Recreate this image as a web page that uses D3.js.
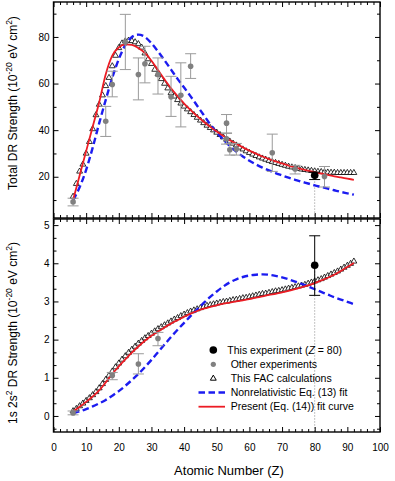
<!DOCTYPE html>
<html>
<head>
<meta charset="utf-8">
<script src="https://cdn.jsdelivr.net/npm/d3@7"></script>
<style>
body { margin: 0; background: #fff; }
svg { font-family: "Liberation Sans", Arial, sans-serif; }
</style>
</head>
<body>
<svg id="chart" width="395" height="481"></svg>
<script>
/** FAC calculations, one point per Z from 6 to 92 */
var facZ = d3.range(6, 93);
var facTotal = [
    11.5, 17, 22.3, 25.3, 30, 35, 40.5, 46.5, 51, 55,
    59, 62.5, 67.5, 72, 75.3, 77.3, 78.2, 78.5, 78.3, 77.8,
    77, 75.5, 73, 70.5, 68.5, 66, 64, 62, 60, 58,
    56, 54.5, 53, 51.5, 50.2, 49, 47.8, 46.6, 45.4, 44.2,
    43.1, 42, 41, 40, 39, 38, 37, 36, 35.2, 34.3,
    33.5, 32.6, 31.8, 31, 30.3, 29.6, 29, 28.4, 27.9, 27.4,
    26.9, 26.4, 26, 25.6, 25.2, 24.8, 24.4, 24.1, 23.8, 23.5,
    23.2, 23, 22.8, 22.6, 22.4, 22.2, 22.1, 22, 21.9, 21.8,
    21.8, 21.7, 21.7, 21.7, 21.7, 21.7, 21.7];
var facGround = [
    0.13, 0.19, 0.26, 0.33, 0.4, 0.47, 0.55, 0.63, 0.73, 0.84,
    0.95, 1.06, 1.17, 1.28, 1.38, 1.48, 1.57, 1.66, 1.74, 1.82,
    1.9, 1.97, 2.04, 2.1, 2.16, 2.22, 2.28, 2.33, 2.38, 2.43,
    2.48, 2.53, 2.57, 2.62, 2.66, 2.7, 2.74, 2.77, 2.8, 2.83,
    2.86, 2.89, 2.91, 2.93, 2.95, 2.97, 2.99, 3.0, 3.02, 3.04,
    3.05, 3.07, 3.09, 3.1, 3.12, 3.14, 3.16, 3.18, 3.2, 3.21,
    3.23, 3.25, 3.27, 3.28, 3.3, 3.32, 3.34, 3.36, 3.38, 3.4,
    3.42, 3.44, 3.47, 3.5, 3.53, 3.56, 3.59, 3.63, 3.67, 3.71,
    3.75, 3.79, 3.84, 3.89, 3.94, 3.99, 4.05];

/** Fit curves, sampled every 2 in Z */
var fitZ = d3.range(6, 93, 2);
var presentTotal = [
    10, 20.5, 31, 41.5, 52, 64, 72, 75.5, 76.8, 76.6,
    75.2, 73.2, 69.8, 65.8, 61.8, 58, 54.6, 51.4, 48.6, 46,
    43.6, 41.4, 39.4, 37.5, 35.7, 34.1, 32.6, 31.2, 29.9, 28.7,
    27.6, 26.6, 25.7, 24.8, 24, 23.3, 22.6, 22, 21.4, 20.8,
    20.2, 19.7, 19.2, 18.7];
var nonrelTotal = [
    10, 15.5, 23, 32.5, 43, 53, 62.5, 70.5, 76.5, 80,
    81, 80, 77.3, 73.8, 70, 66, 62, 58.3, 54.5, 50.5,
    46.5, 42.5, 39, 36, 33.2, 30.8, 28.7, 26.9, 25.3, 23.9,
    22.7, 21.6, 20.6, 19.6, 18.7, 17.9, 17.1, 16.3, 15.6, 14.9,
    14.2, 13.5, 12.9, 12.3];
var presentGround = [
    0.12, 0.24, 0.37, 0.51, 0.67, 0.88, 1.1, 1.3, 1.48, 1.66,
    1.82, 1.97, 2.1, 2.21, 2.32, 2.42, 2.51, 2.6, 2.68, 2.75,
    2.81, 2.86, 2.9, 2.94, 2.97, 3.0, 3.03, 3.06, 3.1, 3.13,
    3.17, 3.2, 3.24, 3.28, 3.32, 3.37, 3.42, 3.48, 3.55, 3.62,
    3.7, 3.8, 3.9, 4.01];
var nonrelGround = [
    0.07, 0.12, 0.18, 0.25, 0.33, 0.42, 0.53, 0.65, 0.79, 0.94,
    1.1, 1.28, 1.47, 1.67, 1.87, 2.07, 2.26, 2.44, 2.62, 2.79,
    2.96, 3.12, 3.26, 3.39, 3.5, 3.58, 3.64, 3.68, 3.7, 3.71,
    3.7, 3.67, 3.63, 3.58, 3.52, 3.46, 3.39, 3.32, 3.25, 3.18,
    3.11, 3.05, 2.99, 2.93];

/** Other experiments: Z, value, lower, upper */
var otherZ     = [6, 16, 18, 22, 26, 28, 32, 36, 39, 42, 53, 53, 54, 56, 67, 74, 83];
var otherTotal = [9.2, 43.8, 59.6, 77.8, 63.9, 68.5, 63.9, 54.3, 55, 67.4, 43, 36.3, 31.6, 31.9, 30.3, 23.3, 20.1];
var otherLow   = [7.5, 37.3, 54.3, 66, 53, 60.3, 55.5, 45.9, 41.4, 62.2, 38.8, 34, 29.3, 29.3, 22.3, 21.2, 15.6];
var otherHigh  = [10.8, 50.2, 65.3, 89.7, 71, 76, 71, 63.1, 68.9, 72.8, 46.7, 38.6, 34.3, 34.3, 38.3, 24.9, 24.4];

var otherGroundZ    = [6, 18, 26, 32];
var otherGround     = [0.08, 1.06, 1.36, 2.03];
var otherGroundLow  = [0.03, 0.95, 1.1, 1.84];
var otherGroundHigh = [0.13, 1.14, 1.63, 2.19];

/** This experiment, Z = 80: value, lower, upper */
var thisZ = 80;
var thisTotal = [20.6, 18.8, 22];
var thisGround = [3.95, 3.16, 4.72];

/** tick values */
var xMajor = d3.range(0, 101, 10);
var xMinor = d3.range(0, 101, 2).filter(function (d) { return d % 10 != 0; });
var yTopMajor = [20, 40, 60, 80];
var yTopMinor = [10, 30, 50, 70, 90];
var yBotMajor = [0, 1, 2, 3, 4, 5];
var yBotMinor = [-1/3, 1/3, 2/3, 4/3, 5/3, 7/3, 8/3, 10/3, 11/3, 13/3, 14/3];

var legendLabels = ['This experiment', 'Other experiments', 'This FAC calculations',
    'Nonrelativistic Eq. (13) fit', 'Present (Eq. (14)) fit curve'];

var blue = '#1c1cf0', red = '#ec1c24', gray = '#808080', barGray = '#9a9a9a';

var svg = d3.select('#chart');
var left = 53.5, right = 380;

var x = d3.scaleLinear().domain([0, 100]).range([left, right]);
var yTop = d3.scaleLinear().domain([2.3, 95]).range([218, 2]);
var yBot = d3.scaleLinear().domain([-0.42, 5.16]).range([432, 219]);

function noDomain(g) { g.select('.domain').remove(); }

/** draws frame and inward ticks on all four sides */
function drawFrame(y, yMajor, yMinor, showX) {
    var top = y.range()[1], bottom = y.range()[0];
    var g = svg.append('g').style('font-size', '12.5px');

    g.append('g').attr('transform', 'translate(' + left + ',0)')
        .call(d3.axisLeft(y).tickValues(yMajor).tickSize(-5).tickPadding(4)
            .tickFormat(d3.format('d')))
        .call(noDomain);
    g.append('g').attr('transform', 'translate(' + left + ',0)')
        .call(d3.axisLeft(y).tickValues(yMinor).tickSize(-3).tickFormat(''))
        .call(noDomain);
    g.append('g').attr('transform', 'translate(' + right + ',0)')
        .call(d3.axisRight(y).tickValues(yMajor).tickSize(-5).tickFormat(''))
        .call(noDomain);
    g.append('g').attr('transform', 'translate(' + right + ',0)')
        .call(d3.axisRight(y).tickValues(yMinor).tickSize(-3).tickFormat(''))
        .call(noDomain);

    g.append('g').attr('transform', 'translate(0,' + bottom + ')')
        .call(d3.axisBottom(x).tickValues(xMajor).tickSize(-5).tickPadding(12)
            .tickFormat(showX ? d3.format('d') : ''))
        .call(noDomain);
    g.append('g').attr('transform', 'translate(0,' + bottom + ')')
        .call(d3.axisBottom(x).tickValues(xMinor).tickSize(-3).tickFormat(''))
        .call(noDomain);
    g.append('g').attr('transform', 'translate(0,' + top + ')')
        .call(d3.axisTop(x).tickValues(xMajor).tickSize(-5).tickFormat(''))
        .call(noDomain);
    g.append('g').attr('transform', 'translate(0,' + top + ')')
        .call(d3.axisTop(x).tickValues(xMinor).tickSize(-3).tickFormat(''))
        .call(noDomain);

    g.selectAll('.tick text').attr('fill', '#000');

    svg.append('rect')
        .attr('x', left).attr('y', top)
        .attr('width', right - left).attr('height', bottom - top)
        .attr('fill', 'none').attr('stroke', '#000').attr('stroke-width', 1.4);
}

/** draws all series of one panel */
function drawPanel(y, fac, nonrel, present, oz, ov, olo, ohi, mine) {
    var bottom = y.range()[0];
    var g = svg.append('g');

    // dotted guide at Z = 80
    g.append('line')
        .attr('x1', x(thisZ)).attr('x2', x(thisZ))
        .attr('y1', y(mine[0])).attr('y2', bottom)
        .attr('stroke', '#b0b0b0').attr('stroke-width', 1)
        .attr('stroke-dasharray', '1.5,1.5');

    var tri = d3.symbol().type(d3.symbolTriangle).size(15);
    g.selectAll('.fac').data(facZ).enter()
        .append('path')
        .attr('class', 'fac')
        .attr('d', tri)
        .attr('transform', function (d, i) { return 'translate(' + x(d) + ',' + y(fac[i]) + ')'; })
        .attr('fill', '#fff').attr('stroke', '#000').attr('stroke-width', 0.8);

    var line = d3.line()
        .x(function (d, i) { return x(fitZ[i]); })
        .y(function (d) { return y(d); })
        .curve(d3.curveMonotoneX);

    g.append('path').datum(nonrel)
        .attr('d', line).attr('fill', 'none')
        .attr('stroke', blue).attr('stroke-width', 2.4)
        .attr('stroke-dasharray', '6.5,3.5');

    g.append('path').datum(present)
        .attr('d', line).attr('fill', 'none')
        .attr('stroke', red).attr('stroke-width', 1.8);

    // other experiments
    oz.forEach(function (z, i) {
        var cx = x(z);
        g.append('line').attr('x1', cx).attr('x2', cx)
            .attr('y1', y(olo[i])).attr('y2', y(ohi[i]))
            .attr('stroke', barGray).attr('stroke-width', 1);
        [olo[i], ohi[i]].forEach(function (v) {
            g.append('line').attr('x1', cx - 5.5).attr('x2', cx + 5.5)
                .attr('y1', y(v)).attr('y2', y(v))
                .attr('stroke', barGray).attr('stroke-width', 1);
        });
        g.append('circle').attr('cx', cx).attr('cy', y(ov[i])).attr('r', 2.8)
            .attr('fill', gray);
    });

    // this experiment
    var mx = x(thisZ);
    g.append('line').attr('x1', mx).attr('x2', mx)
        .attr('y1', y(mine[1])).attr('y2', y(mine[2]))
        .attr('stroke', '#000').attr('stroke-width', 1);
    [mine[1], mine[2]].forEach(function (v) {
        g.append('line').attr('x1', mx - 5.5).attr('x2', mx + 5.5)
            .attr('y1', y(v)).attr('y2', y(v))
            .attr('stroke', '#000').attr('stroke-width', 1);
    });
    g.append('circle').attr('cx', mx).attr('cy', y(mine[0])).attr('r', 3.8)
        .attr('fill', '#000');
}

drawPanel(yTop, facTotal, nonrelTotal, presentTotal,
    otherZ, otherTotal, otherLow, otherHigh, thisTotal);
drawPanel(yBot, facGround, nonrelGround, presentGround,
    otherGroundZ, otherGround, otherGroundLow, otherGroundHigh, thisGround);

drawFrame(yTop, yTopMajor, yTopMinor, false);
drawFrame(yBot, yBotMajor, yBotMinor, true);

/** axis titles */
function supLabel(parts, cx, cy) {
    var t = svg.append('text')
        .attr('transform', 'translate(' + cx + ',' + cy + ') rotate(-90)')
        .attr('text-anchor', 'middle')
        .style('font-size', '12px');
    parts.forEach(function (p) {
        if (p.sup) {
            t.append('tspan').attr('dy', -5).style('font-size', '8.5px').text(p.t);
        } else {
            t.append('tspan').attr('dy', p.after ? 5 : 0).text(p.t);
        }
    });
}

supLabel([{t: 'Total DR Strength (10'}, {t: '-20', sup: true}, {t: ' eV cm', after: true},
    {t: '2', sup: true}, {t: ')', after: true}], 17, 103);
supLabel([{t: '1s 2s'}, {t: '2', sup: true}, {t: ' DR Strength (10', after: true}, {t: '-20', sup: true},
    {t: ' eV cm', after: true}, {t: '2', sup: true}, {t: ')', after: true}], 17, 333);

svg.append('text')
    .attr('x', 229).attr('y', 475)
    .attr('text-anchor', 'middle')
    .style('font-size', '13px')
    .text('Atomic Number (Z)');

/** legend */
var legend = svg.append('g').style('font-size', '10.5px');
var rowY = [350, 364.3, 378.5, 392.5, 406.7];
var symX = 213.3;

legend.append('circle').attr('cx', symX).attr('cy', rowY[0]).attr('r', 3.8).attr('fill', '#000');
legend.append('circle').attr('cx', symX).attr('cy', rowY[1]).attr('r', 2.6).attr('fill', gray);
legend.append('path')
    .attr('d', d3.symbol().type(d3.symbolTriangle).size(15))
    .attr('transform', 'translate(' + symX + ',' + rowY[2] + ')')
    .attr('fill', '#fff').attr('stroke', '#000').attr('stroke-width', 1);
legend.append('line').attr('x1', 198.5).attr('x2', 225).attr('y1', rowY[3]).attr('y2', rowY[3])
    .attr('stroke', blue).attr('stroke-width', 2.4).attr('stroke-dasharray', '6.5,3.5');
legend.append('line').attr('x1', 198.5).attr('x2', 225).attr('y1', rowY[4]).attr('y2', rowY[4])
    .attr('stroke', red).attr('stroke-width', 1.8);

var first = legend.append('text').attr('x', 227.3).attr('y', rowY[0]).attr('dy', '0.35em');
first.append('tspan').text(legendLabels[0] + ' (');
first.append('tspan').style('font-style', 'italic').text('Z');
first.append('tspan').text(' = 80)');

legendLabels.slice(1).forEach(function (s, i) {
    legend.append('text')
        .attr('x', 230.7).attr('y', rowY[i + 1]).attr('dy', '0.35em')
        .text(s);
});
</script>
</body>
</html>
